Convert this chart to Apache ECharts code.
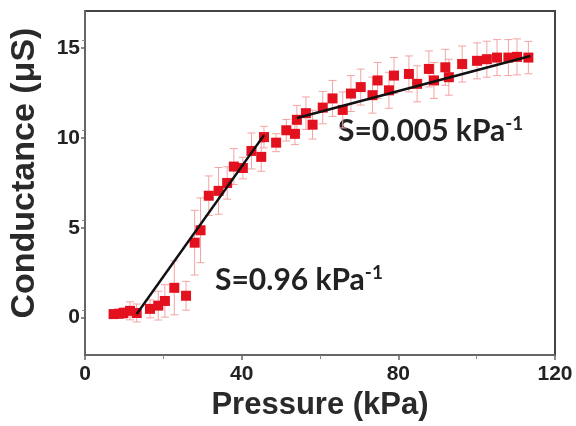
<!DOCTYPE html>
<html>
<head>
<meta charset="utf-8">
<script src="https://cdn.jsdelivr.net/npm/echarts@6/dist/echarts.min.js"></script>
<style>
html,body{margin:0;padding:0;background:#fff;}
#c{width:576px;height:426px;}
</style>
</head>
<body>
<div id="c"></div>
<script>
// Data
var pressure = [7.3, 8.6, 9.8, 11.5, 13.2, 16.6, 18.7, 20.4, 22.8, 25.8, 28.0, 29.5, 31.6, 34.1, 36.3, 38.0, 40.3, 42.5, 45.0, 45.7, 48.8, 51.4, 53.6, 54.1, 56.4, 58.1, 60.7, 63.2, 65.8, 67.9, 70.4, 73.4, 74.7, 77.6, 78.9, 82.7, 84.8, 87.8, 89.1, 92.0, 92.9, 96.3, 100.1, 102.6, 105.2, 108.1, 110.3, 113.2];
var conductance = [0.20, 0.22, 0.26, 0.38, 0.26, 0.49, 0.67, 0.93, 1.66, 1.22, 4.17, 4.86, 6.78, 7.05, 7.49, 8.40, 8.32, 9.27, 8.94, 10.04, 9.73, 10.42, 10.22, 11.00, 11.37, 10.73, 11.68, 12.19, 11.55, 12.46, 12.82, 12.37, 13.19, 12.64, 13.46, 13.55, 13.00, 13.83, 13.19, 13.92, 13.37, 14.10, 14.28, 14.37, 14.46, 14.46, 14.50, 14.46];
var errors = [0.2, 0.2, 0.3, 0.5, 0.5, 0.5, 0.8, 0.9, 1.5, 0.8, 1.8, 1.8, 1.1, 1.3, 0.9, 1.0, 0.6, 1.0, 0.8, 0.6, 0.5, 0.6, 0.6, 0.8, 0.9, 0.8, 0.9, 1.0, 1.0, 1.0, 1.0, 1.0, 1.0, 1.0, 1.0, 1.0, 1.0, 1.0, 1.0, 1.0, 1.0, 1.0, 1.0, 1.0, 1.0, 1.0, 1.0, 0.9];
var fitLow = [[13.2, 0.2], [45.7, 10.15]];
var fitHigh = [[54.1, 11.1], [113.7, 14.55]];
var xTicks = [0, 40, 80, 120];
var yTicks = [0, 5, 10, 15];

var points = pressure.map(function (p, i) { return [p, conductance[i]]; });
var errData = pressure.map(function (p, i) { return [p, conductance[i] - errors[i], conductance[i] + errors[i]]; });

var chart = echarts.init(document.getElementById('c'));
var labelFont = { fontFamily: 'Liberation Sans, Arial', fontWeight: 'bold', fontSize: 21, color: '#222' };

chart.setOption({
  animation: false,
  grid: { left: 83, right: 21, top: 11, bottom: 65, show: true, borderColor: '#444', borderWidth: 2, backgroundColor: 'transparent' },
  xAxis: {
    type: 'value', min: 0, max: 120, interval: 40,
    name: 'Pressure (kPa)', nameLocation: 'middle', nameGap: 28,
    nameTextStyle: { fontFamily: 'Liberation Sans, Arial', fontWeight: 'bold', fontSize: 31, color: '#2a2a2a' },
    axisLine: { show: true, onZero: false, lineStyle: { color: '#666', width: 2 } },
    axisTick: { show: true, inside: false, length: 5, lineStyle: { color: '#666', width: 1.5 } },
    minorTick: { show: true, splitNumber: 2, length: 4, lineStyle: { color: '#888' } },
    axisLabel: Object.assign({ margin: 9, formatter: function (v) { return xTicks.indexOf(v) >= 0 ? String(v) : ''; } }, labelFont),
    splitLine: { show: false }
  },
  yAxis: {
    type: 'value', min: -2.08, max: 17.05, interval: 5,
    name: 'Conductance (\u03bcS)', nameLocation: 'middle', nameGap: 43,
    nameTextStyle: { fontFamily: 'Liberation Sans, Arial', fontWeight: 'bold', fontSize: 34, color: '#2a2a2a', padding: [0, 0, 0, 20] },
    axisLine: { show: true, onZero: false, lineStyle: { color: '#666', width: 2 } },
    axisTick: { show: true, inside: false, length: 4, customValues: yTicks, lineStyle: { color: '#666', width: 1.5 } },
    minorTick: { show: true, splitNumber: 2, length: 3, lineStyle: { color: '#888' } },
    axisLabel: Object.assign({ margin: 5, customValues: yTicks, formatter: function (v) { return yTicks.indexOf(v) >= 0 ? String(v) : ''; } }, labelFont),
    splitLine: { show: false }
  },
  series: [
    {
      type: 'custom',
      data: errData,
      z: 1,
      renderItem: function (params, api) {
        var x = api.value(0);
        var lo = api.coord([x, api.value(1)]);
        var hi = api.coord([x, api.value(2)]);
        var cw = 4;
        var st = { stroke: '#f3a4a4', lineWidth: 1 };
        return {
          type: 'group',
          children: [
            { type: 'line', shape: { x1: lo[0], y1: lo[1], x2: hi[0], y2: hi[1] }, style: st },
            { type: 'line', shape: { x1: lo[0] - cw, y1: lo[1], x2: lo[0] + cw, y2: lo[1] }, style: st },
            { type: 'line', shape: { x1: hi[0] - cw, y1: hi[1], x2: hi[0] + cw, y2: hi[1] }, style: st }
          ]
        };
      }
    },
    {
      type: 'scatter', data: points, symbol: 'rect', symbolSize: 10, z: 2,
      itemStyle: { color: '#e3101e', opacity: 1 }
    },
    {
      type: 'line', data: fitLow, symbol: 'none', z: 3,
      lineStyle: { color: '#111', width: 2.5 }
    },
    {
      type: 'line', data: fitHigh, symbol: 'none', z: 3,
      lineStyle: { color: '#111', width: 2.5 }
    }
  ],
  graphic: [
    {
      type: 'text', left: 215, top: 263,
      style: {
        text: '{a|S=0.96 kPa}{b|-1}',
        rich: {
          a: { fontFamily: 'Lato, Open Sans', fontWeight: 'bold', fontSize: 30, fill: '#222', lineHeight: 34 },
          b: { fontFamily: 'Lato, Open Sans', fontWeight: 'bold', fontSize: 19, fill: '#222', lineHeight: 18, verticalAlign: 'top' }
        }
      }
    },
    {
      type: 'text', left: 338, top: 114,
      style: {
        text: '{a|S=0.005 kPa}{b|-1}',
        rich: {
          a: { fontFamily: 'Lato, Open Sans', fontWeight: 'bold', fontSize: 30, fill: '#222', lineHeight: 34 },
          b: { fontFamily: 'Lato, Open Sans', fontWeight: 'bold', fontSize: 19, fill: '#222', lineHeight: 18, verticalAlign: 'top' }
        }
      }
    }
  ]
});
</script>
</body>
</html>
